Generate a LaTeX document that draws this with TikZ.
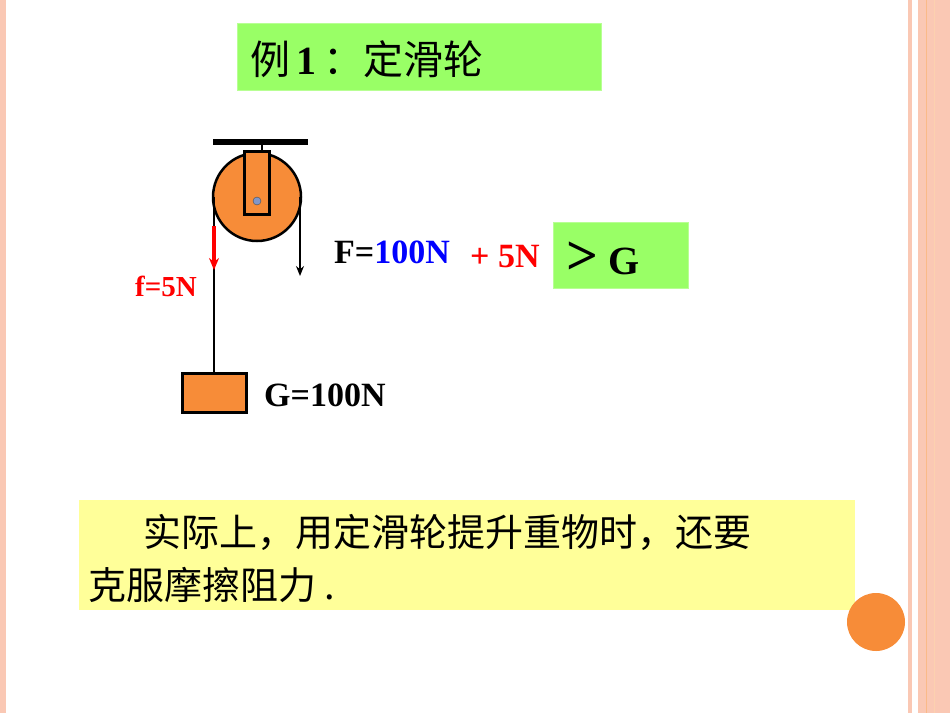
\documentclass[tikz,border=0pt]{standalone}
\usepackage{fontspec}
\setmainfont{Liberation Serif}
\newfontfamily\cjk{Noto Sans CJK SC}
\usetikzlibrary{arrows.meta}
\definecolor{org}{RGB}{247,140,56}
\definecolor{pk}{RGB}{250,200,180}
\definecolor{gr}{RGB}{153,255,102}
\definecolor{yl}{RGB}{255,255,153}
\begin{document}
\begin{tikzpicture}[x=1pt,y=-1pt,
  lbl/.style={inner sep=0,anchor=west,font=\bfseries\fontsize{34}{36}\selectfont}]
\useasboundingbox (0,0) rectangle (950,713);
% borders
\fill[pk] (0,0) rectangle (6,713);
\fill[pk] (908,0) rectangle (912,713);
\fill[pk] (918,0) rectangle (950,713);
\draw[org!60,line width=1] (926,0) -- (926,713);
\draw[org!40,line width=1] (934,0) -- (934,713);
% title
\node[fill=gr,draw=gr!70!white,minimum width=364,minimum height=67,anchor=north west,inner sep=0] (title) at (237,23) {};
\node[anchor=west,inner sep=0,font=\cjk\fontsize{40}{42}\selectfont] (tt) at (250,59) {例{\rmfamily\bfseries\,1\,}：定滑轮};
% pulley
\coordinate (c) at (257,197);
\draw[line width=6] (213,142) -- (308,142);
\draw[line width=2.5] (262,142) -- (262,150);
\node[circle,draw,line width=2.5,fill=org,minimum size=88,inner sep=0] (wheel) at (c) {};
\node[draw,line width=2.5,fill=org,minimum width=25,minimum height=63,inner sep=0,anchor=north] (br) at (257,150) {};
\node[circle,draw=black!70,fill={rgb,255:red,130;green,150;blue,200},minimum size=8,inner sep=0] (ax) at (257,201) {};
% block
\node[draw,line width=2.5,fill=org,minimum width=64,minimum height=39,inner sep=0,anchor=north west] (blk) at (181,372) {};
\coordinate (lt) at (214,197);
\coordinate (rt) at (300,197);
\coordinate (rb) at (300,276);
\draw[line width=2.5] (lt) -- (blk.north -| lt);
\draw[line width=2.5,-{Stealth[length=10,width=8]}] (rt) -- (rb);
\coordinate (ra) at (214,226);
\coordinate (rb2) at (214,270);
\draw[red,line width=3.5,-{Stealth[length=12,width=10]}] (ra) -- (rb2);
\node[lbl,red,font=\bfseries\fontsize{29}{30}\selectfont] (f) at (135,286) {f=5N};
\node[lbl] (g) at (264,395) {G=100N};
\node[lbl] (F) at (334,252) {F={\color{blue}100N}};
\node[lbl,red] (p) at (470,257) {+ 5N};
\node[fill=gr,draw=gr!70!white,minimum width=135,minimum height=66,anchor=north west,inner sep=0] (gb) at (553,222) {};
\node[lbl,font=\bfseries\fontsize{40}{42}\selectfont] (gt) at (566,258) {{\fontsize{56}{56}\selectfont >} G};
% yellow note
\node[fill=yl,minimum width=776,minimum height=110,anchor=north west,inner sep=0] (note) at (79,500) {};
\node[anchor=west,inner sep=0,font=\cjk\fontsize{38}{40}\selectfont] (l1) at (143,532) {实际上，用定滑轮提升重物时，还要};
\node[anchor=west,inner sep=0,font=\cjk\fontsize{38}{40}\selectfont] (l2) at (88,585) {克服摩擦阻力 .};
\fill[org] (876,622) circle (29);
\end{tikzpicture}
\end{document}
